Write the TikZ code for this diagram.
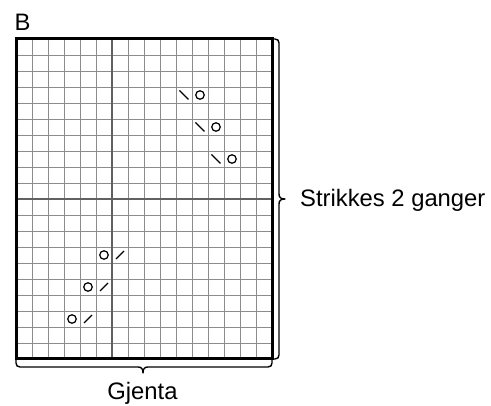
\documentclass[tikz,border=0pt]{standalone}
\usepackage{fontspec}
\setmainfont{Liberation Sans}
\begin{document}
\begin{tikzpicture}[x=1pt,y=-1pt,
  gridline/.style={draw=black!45, line width=0.9pt},
  midline/.style={draw=black!62, line width=1.8pt},
  frame/.style={line width=3pt, line join=miter},
  bracepath/.style={line width=1.4pt, line join=round},
  yo/.style={circle, draw, line width=1.2pt, minimum size=8.5pt, inner sep=0pt},
  dec/.style={line width=1.3pt},
  lbl/.style={font=\fontsize{23.8}{28}\selectfont, inner sep=0pt}]
\useasboundingbox (0,0) rectangle (491,406);
% grid
\foreach \i in {1,...,15} \draw[gridline] (16+16*\i,39) -- (16+16*\i,359);
\foreach \j in {1,...,19} \draw[gridline] (16,39+16*\j) -- (272,39+16*\j);
\draw[midline] (112,39) -- (112,359);
\draw[midline] (16,199) -- (272,199);
\draw[frame] (16,39) rectangle (272,359);
\coordinate (tl) at (16,39);
\coordinate (tr) at (272,39);
\coordinate (bl) at (16,359);
\coordinate (br) at (272,359);
% symbols: decrease "\" then yarn over (upper part)
\foreach \c/\r [count=\k] in {10/3, 11/5, 12/7} {
  \draw[dec] (24+16*\c-4.5, 47+16*\r-4.5) -- (24+16*\c+4.5, 47+16*\r+4.5);
  \node[yo] (ua\k) at (24+16*\c+16, 47+16*\r) {};
}
% yarn over then "/" (lower part)
\foreach \c/\r [count=\k] in {5/13, 4/15, 3/17} {
  \node[yo] (la\k) at (24+16*\c, 47+16*\r) {};
  \draw[dec] (24+16*\c+16-4, 47+16*\r+4) -- (24+16*\c+16+4, 47+16*\r-4);
}
% right brace
\draw[bracepath] (tr) -- (275,39)
  .. controls (277.5,39) and (279,40.5) .. (279,43)
  -- (279,194)
  .. controls (279,197.5) and (281,199) .. (285,199)
  .. controls (281,199) and (279,200.5) .. (279,204)
  -- (279,355)
  .. controls (279,357.5) and (277.5,359) .. (275,359) -- (br);
% bottom brace
\draw[bracepath] (bl) -- (16,363)
  .. controls (16,365.5) and (17.5,367) .. (20,367) -- (138,367)
  .. controls (141.5,367) and (143,369) .. (143,373)
  .. controls (143,369) and (144.5,367) .. (148,367)
  -- (268,367)
  .. controls (270.5,367) and (272,365.5) .. (272,363) -- (br);
% labels
\node[lbl, anchor=base west] (B) at (14.5,31) {B};
\node[lbl, anchor=base west] (rep) at (300,207) {Strikkes 2 ganger};
\node[lbl, anchor=base] (gj) at (142.5,400) {Gjenta};
\end{tikzpicture}
\end{document}
